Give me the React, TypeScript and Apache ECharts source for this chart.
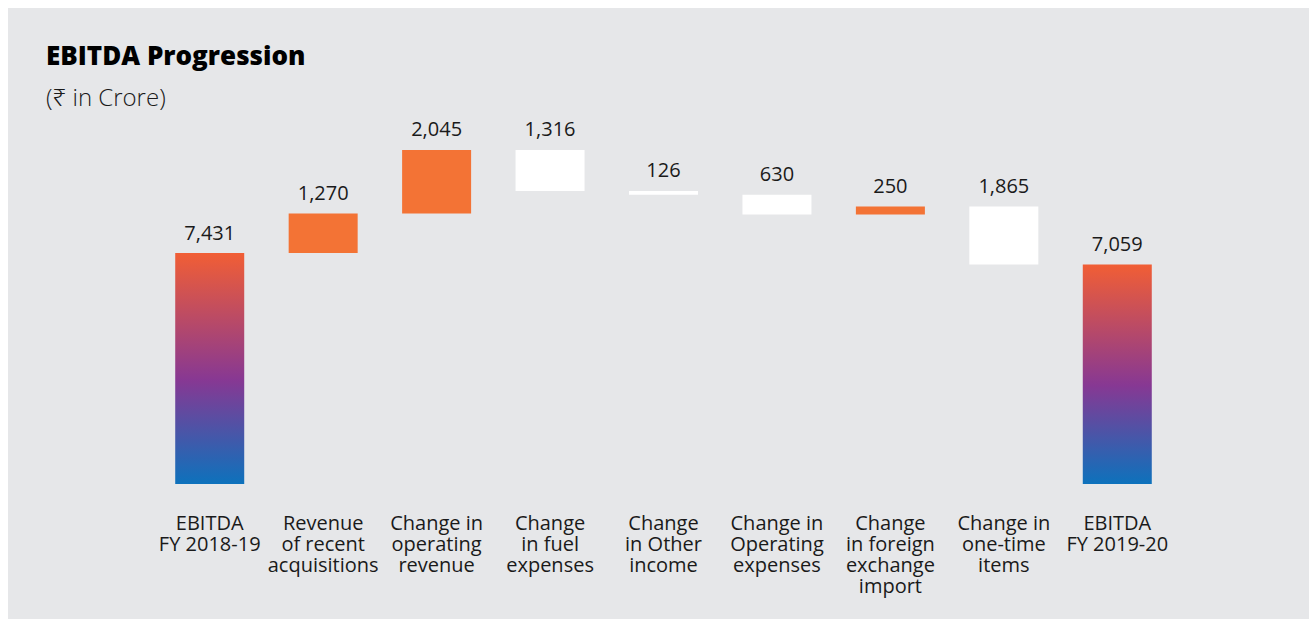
import React, { useEffect, useRef } from "react";
import * as echarts from "echarts";

const categories = [
  "EBITDA\nFY 2018-19",
  "Revenue\nof recent\nacquisitions",
  "Change in\noperating\nrevenue",
  "Change\nin fuel\nexpenses",
  "Change\nin Other\nincome",
  "Change in\nOperating\nexpenses",
  "Change\nin foreign\nexchange\nimport",
  "Change in\none-time\nitems",
  "EBITDA\nFY 2019-20",
];
const amounts = [7431, 1270, 2045, 1316, 126, 630, 250, 1865, 7059];
const kinds = ["total", "up", "up", "down", "down", "down", "up", "down", "total"];

const titleText = "EBITDA Progression";
const subtitleText = "(₹ in Crore)";

const FONT = '"Open Sans", "Noto Sans", "DejaVu Sans", sans-serif';
const ORANGE = "#F37335";
const BG = "#E6E7E9";

function buildBases(): number[] {
  let running = 0;
  return amounts.map((a, i) => {
    const k = kinds[i];
    if (k === "total") {
      running = a;
      return 0;
    }
    if (k === "up") {
      const b = running;
      running += a;
      return b;
    }
    running -= a;
    return running;
  });
}

export default function App() {
  const ref = useRef<HTMLDivElement>(null);
  useEffect(() => {
    if (!ref.current) return;
    const chart = echarts.init(ref.current, null, { renderer: "svg" });
    const bases = buildBases();
    const gradient = new echarts.graphic.LinearGradient(0, 0, 0, 1, [
      { offset: 0, color: "#F15E35" },
      { offset: 0.55, color: "#873893" },
      { offset: 1, color: "#0D72BC" },
    ]);
    chart.setOption({
      animation: false,
      backgroundColor: BG,
      graphic: [
        {
          type: "text",
          left: 38,
          top: 34,
          style: {
            text: titleText,
            font: `800 26px ${FONT}`,
            fill: "#000",
          },
        },
        {
          type: "text",
          left: 38,
          top: 76,
          style: {
            text: subtitleText,
            font: `300 24px ${FONT}`,
            fill: "#1a1a1a",
          },
        },
      ],
      grid: { left: 145, right: 135, top: 103, bottom: 135 },
      xAxis: {
        type: "category",
        data: categories,
        axisLine: { show: false },
        axisTick: { show: false },
        axisLabel: {
          interval: 0,
          margin: 28,
          fontFamily: FONT,
          fontSize: 20,
          lineHeight: 21,
          color: "#1a1a1a",
          align: "center",
        },
      },
      yAxis: {
        type: "value",
        min: 0,
        max: 12000,
        show: false,
        splitLine: { show: false },
      },
      series: [
        {
          type: "bar",
          stack: "wf",
          barWidth: 69,
          itemStyle: { color: "transparent" },
          emphasis: { disabled: true },
          data: bases,
          silent: true,
        },
        {
          type: "bar",
          stack: "wf",
          barWidth: 69,
          data: amounts.map((a, i) => ({
            value: a,
            itemStyle: {
              color:
                kinds[i] === "total" ? gradient : kinds[i] === "up" ? ORANGE : "#FFFFFF",
            },
          })),
          label: {
            show: true,
            position: "top",
            distance: 11,
            fontFamily: FONT,
            fontSize: 20,
            color: "#1a1a1a",
            formatter: (p: any) => Number(p.value).toLocaleString("en-US"),
          },
        },
      ],
    });
    return () => chart.dispose();
  }, []);
  return (
    <div
      ref={ref}
      style={{
        position: "absolute",
        left: 8,
        top: 8,
        width: 1301,
        height: 611,
        background: BG,
        overflow: "hidden",
      }}
    />
  );
}
